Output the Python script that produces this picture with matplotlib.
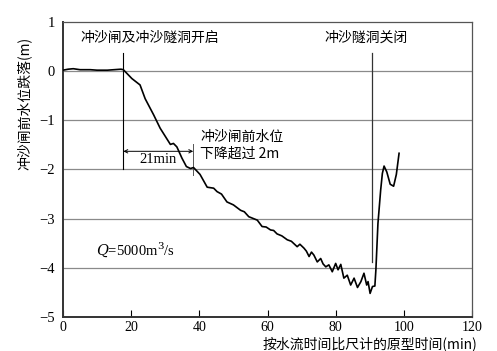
"""
Water level drop in front of the sluice gate vs. prototype time.
"""

import matplotlib
matplotlib.use('Agg')
import matplotlib.pyplot as plt

plt.rcParams['font.family'] = ['Noto Sans CJK SC', 'DejaVu Sans']
plt.rcParams['axes.unicode_minus'] = True

time_min = [0, 1.5, 3, 5, 8, 10, 13, 15, 17, 17.7,
            20.2, 22.6, 24.1, 26.6, 28.5, 31.5, 32.4, 33.4, 34.9, 36.2, 37.4, 38.3,
            40.2, 42.3, 44.2, 45.2, 46.5, 48.1, 50.0, 52.1, 53.2, 54.5, 57.0, 58.4,
            59.6, 60.9, 61.8, 62.8, 64.2, 65.8, 67.0, 68.7, 69.5, 70.7, 71.4, 72.2,
            72.9, 73.6, 74.6, 75.6, 76.3, 77.1, 78.0, 79.0, 80.0, 80.7, 81.5,
            82.4, 83.4, 84.4, 85.4, 86.4, 87.4, 88.3, 89.1, 89.5, 90.1, 90.8, 91.5,
            91.8, 92.4, 93.2, 93.7, 94.2, 95.0, 96.0, 97.0, 97.8, 98.6]
drop_m = [0.02, 0.04, 0.05, 0.03, 0.03, 0.02, 0.02, 0.03, 0.04, 0.03,
          -0.15, -0.28, -0.56, -0.89, -1.16, -1.49, -1.47, -1.54, -1.77, -1.94, -1.98, -1.96,
          -2.10, -2.36, -2.38, -2.45, -2.50, -2.66, -2.72, -2.83, -2.86, -2.96, -3.03, -3.16,
          -3.17, -3.23, -3.24, -3.31, -3.35, -3.43, -3.46, -3.57, -3.52, -3.60, -3.66, -3.77,
          -3.68, -3.74, -3.88, -3.81, -3.92, -3.98, -3.94, -4.08, -3.91, -4.04, -3.93,
          -4.21, -4.15, -4.35, -4.21, -4.40, -4.28, -4.11, -4.35, -4.28, -4.52, -4.38, -4.37,
          -4.04, -3.10, -2.42, -2.08, -1.93, -2.05, -2.30, -2.34, -2.10, -1.67]

open_time = 17.7
close_time = 90.6
drop_2m_time = 38.2
x_ticks = [0, 20, 40, 60, 80, 100, 120]
y_ticks = [1, 0, -1, -2, -3, -4, -5]

num_font = 'Liberation Serif'

fig = plt.figure(figsize=(4.97, 3.51), dpi=100)
ax = fig.add_axes([0.1268, 0.0969, 0.8229, 0.8404])

# horizontal grid lines
for yv in [0, -1, -2, -3, -4]:
    ax.axhline(yv, color='#8a8a8a', lw=0.9, zorder=1)

ax.plot(time_min, drop_m, color='black', lw=1.2, zorder=3)

# event markers
ax.plot([open_time, open_time], [-2.0, 0.37], color='black', lw=0.8)
ax.plot([close_time, close_time], [-3.88, 0.37], color='#333333', lw=0.9)
ax.plot([drop_2m_time, drop_2m_time], [-2.12, -1.49], color='#555555', lw=0.7)
ax.annotate('', xy=(open_time, -1.63), xytext=(drop_2m_time, -1.63),
            arrowprops=dict(arrowstyle='<->', color='black', lw=0.7,
                            shrinkA=0, shrinkB=0, mutation_scale=6))

ax.text(5, 0.67, '冲沙闸及冲沙隧洞开启', fontsize=10, va='center')
ax.text(89, 0.67, '冲沙隧洞关闭', fontsize=10, va='center', ha='center')
ax.text(40.3, -1.34, '冲沙闸前水位', fontsize=10, va='center')
ax.text(40.3, -1.67, '下降超过 2m', fontsize=10, va='center')
ax.text(27.8, -1.79, '21min', fontsize=10.5, va='center', ha='center', family=num_font)
ax.text(9.7, -3.64, r'$Q$=5000m$^3$/s', fontsize=10.5, va='center',
        family=num_font, math_fontfamily='dejavuserif')

ax.set_xlim(0, 120)
ax.set_ylim(-5, 1)
ax.set_xticks(x_ticks)
ax.set_yticks(y_ticks)
ax.set_xticklabels([str(v) for v in x_ticks], family=num_font, fontsize=10)
ax.set_yticklabels([str(v).replace('-', '\u2212') for v in y_ticks],
                   family=num_font, fontsize=10.5)
ax.tick_params(axis='x', direction='in', length=5, width=0.8, pad=3)
ax.tick_params(axis='y', length=0, pad=6)

for side in ['left', 'bottom']:
    ax.spines[side].set_color('#333333')
    ax.spines[side].set_linewidth(1.4)
for side in ['top', 'right']:
    ax.spines[side].set_color('#555555')
    ax.spines[side].set_linewidth(0.9)

fig.text(0.048, 0.705, '冲沙闸前水位跌落(m)', rotation=90, fontsize=10,
         ha='center', va='center')
fig.text(0.96, 0.0, '按水流时间比尺计的原型时间(min)', fontsize=10,
         ha='right', va='bottom')

plt.savefig('out.png', dpi=100)
plt.close()
